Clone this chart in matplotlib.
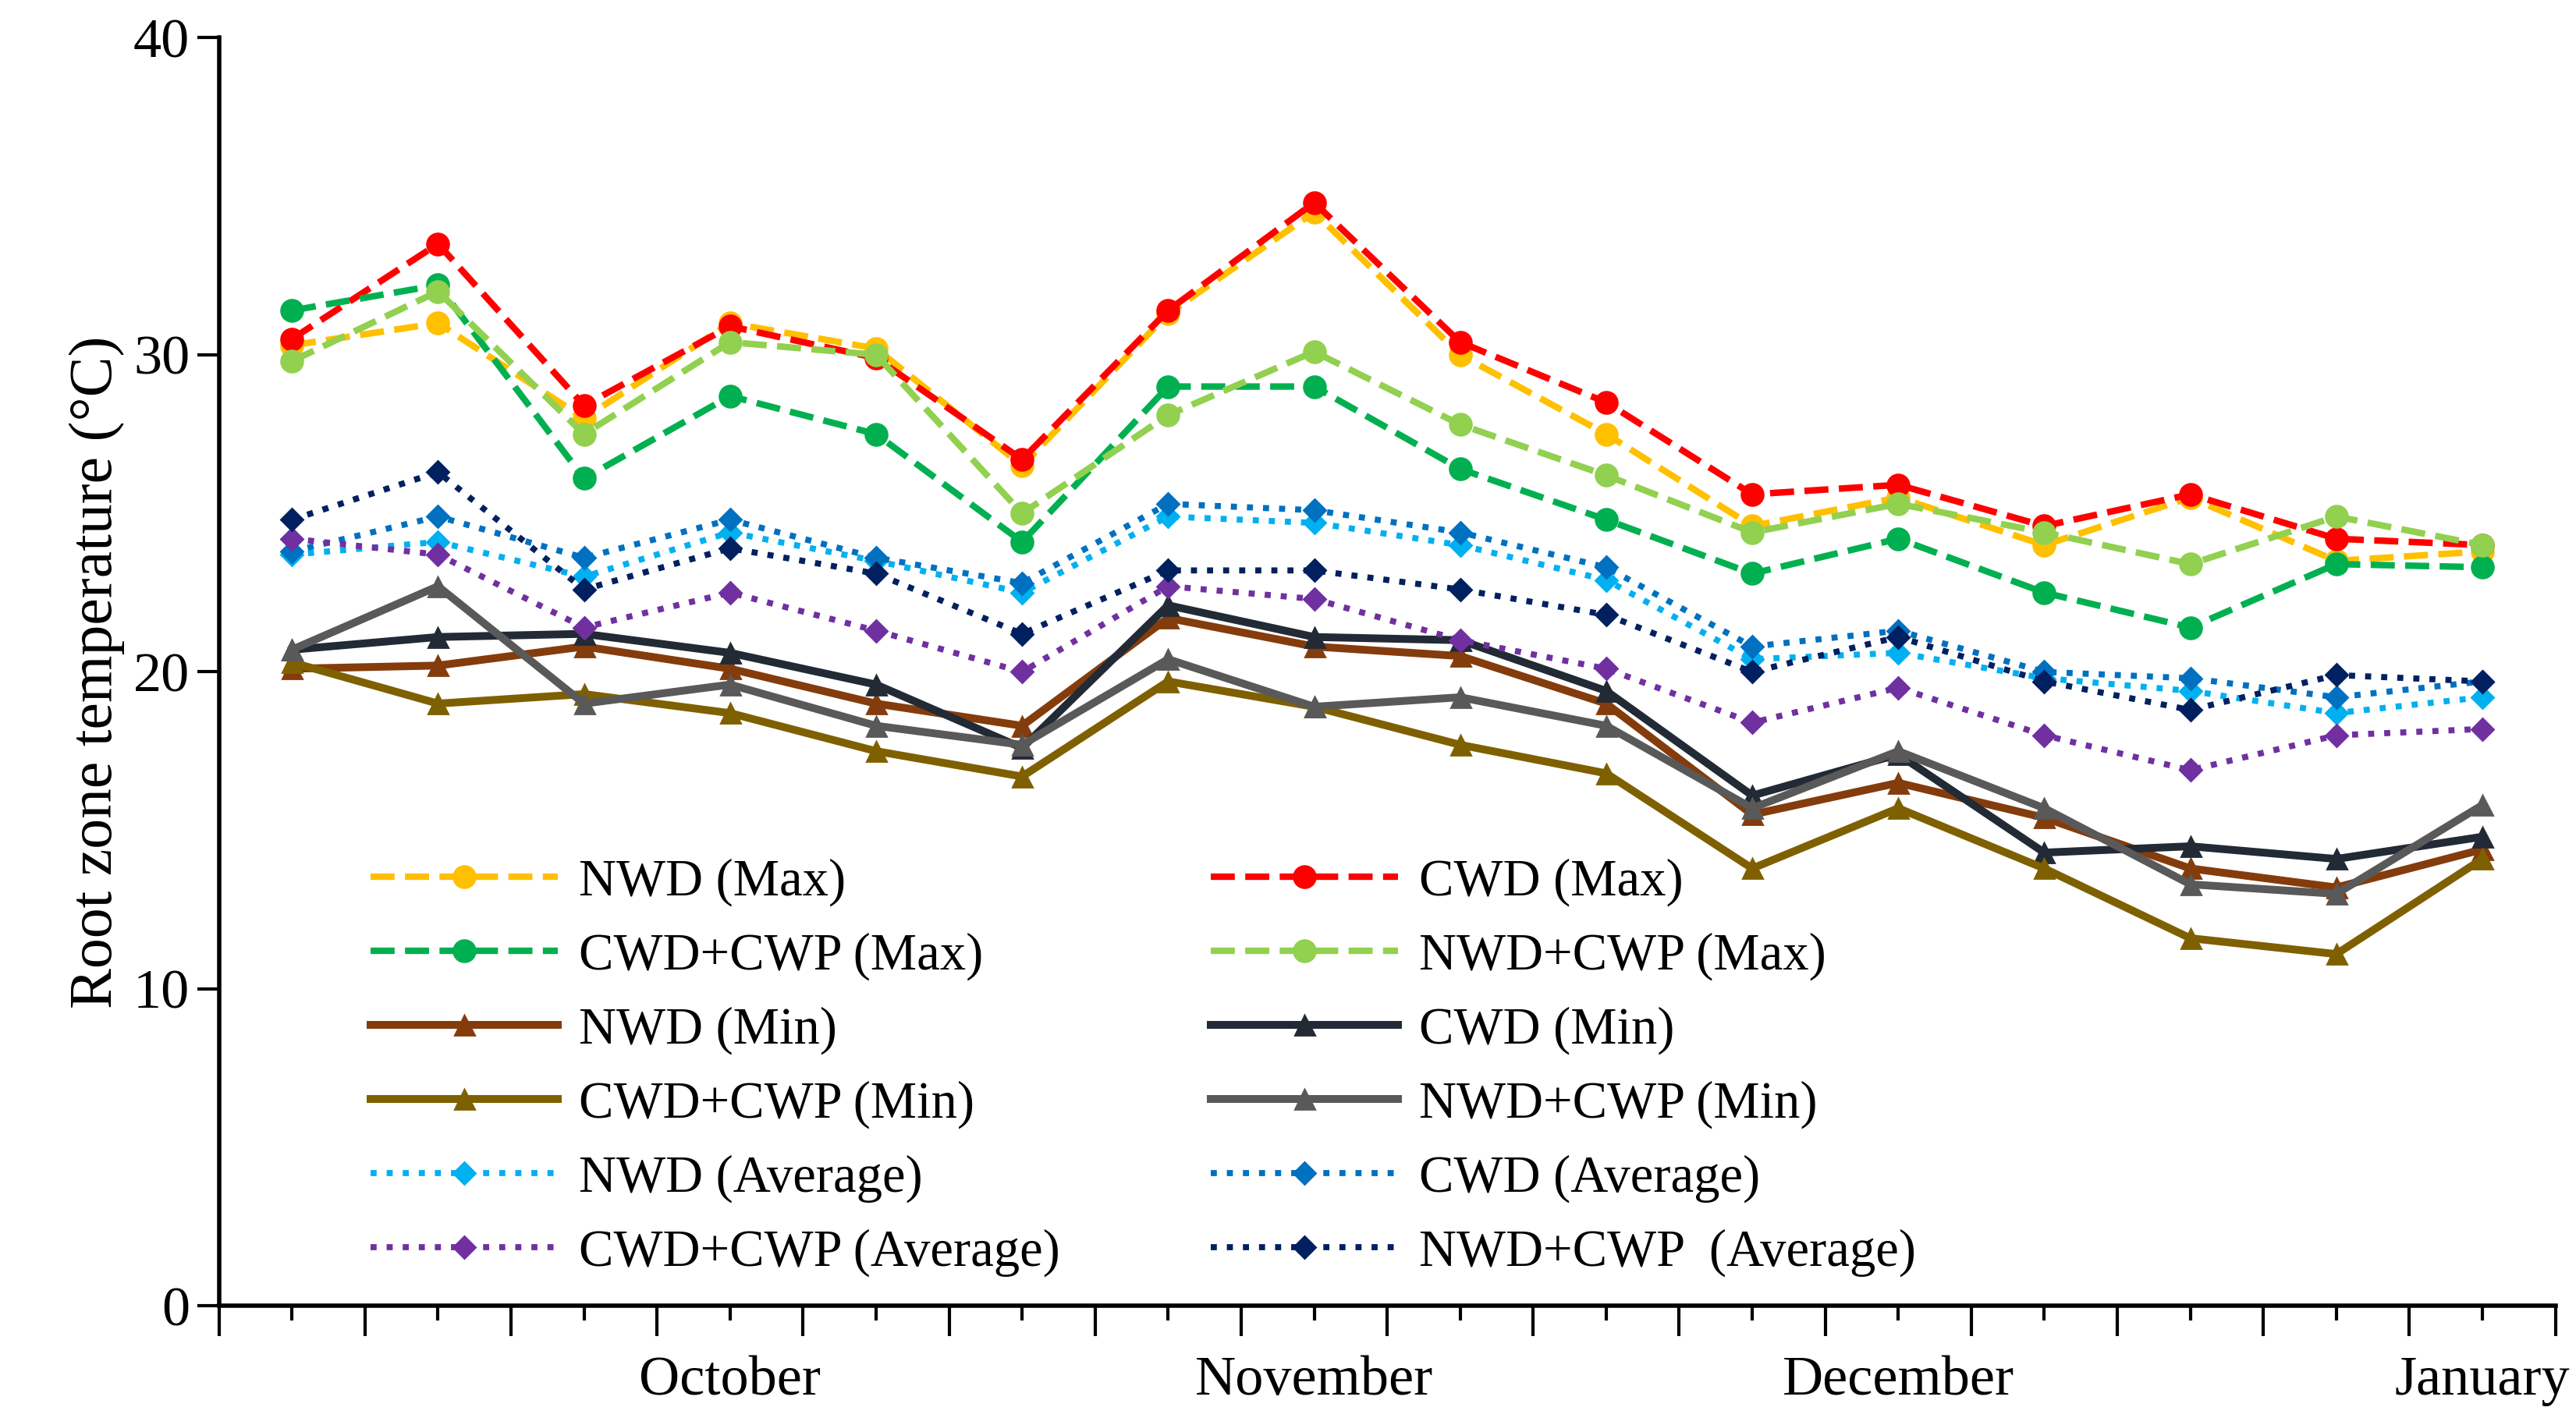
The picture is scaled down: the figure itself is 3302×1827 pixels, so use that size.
import numpy as np
import matplotlib.pyplot as plt

plt.rcParams['font.family'] = 'Liberation Serif'

x = np.arange(1, 17)
months = ['', '', '', 'October', '', '', '', 'November', '', '', '', 'December', '', '', '', 'January']

nwd_max = [30.3, 31.0, 28.0, 31.0, 30.2, 26.5, 31.3, 34.5, 30.0, 27.5, 24.6, 25.5, 24.0, 25.5, 23.5, 23.8]
cwd_max = [30.5, 33.5, 28.4, 30.9, 29.9, 26.7, 31.4, 34.8, 30.4, 28.5, 25.6, 25.9, 24.6, 25.6, 24.2, 24.0]
cwdcwp_max = [31.4, 32.2, 26.1, 28.7, 27.5, 24.1, 29.0, 29.0, 26.4, 24.8, 23.1, 24.2, 22.5, 21.4, 23.4, 23.3]
nwdcwp_max = [29.8, 32.0, 27.5, 30.4, 30.0, 25.0, 28.1, 30.1, 27.8, 26.2, 24.4, 25.3, 24.4, 23.4, 24.9, 24.0]
nwd_min = [20.1, 20.2, 20.8, 20.1, 19.0, 18.3, 21.7, 20.8, 20.5, 19.0, 15.5, 16.5, 15.4, 13.8, 13.2, 14.4]
cwd_min = [20.7, 21.1, 21.2, 20.6, 19.6, 17.6, 22.1, 21.1, 21.0, 19.4, 16.1, 17.4, 14.3, 14.5, 14.1, 14.8]
cwdcwp_min = [20.3, 19.0, 19.3, 18.7, 17.5, 16.7, 19.7, 18.9, 17.7, 16.8, 13.8, 15.7, 13.8, 11.6, 11.1, 14.1]
nwdcwp_min = [20.7, 22.7, 19.0, 19.6, 18.3, 17.7, 20.4, 18.9, 19.2, 18.3, 15.7, 17.5, 15.7, 13.3, 13.0, 15.8]
nwd_avg = [23.7, 24.1, 23.0, 24.4, 23.5, 22.5, 24.9, 24.7, 24.0, 22.9, 20.4, 20.6, 19.8, 19.4, 18.7, 19.2]
cwd_avg = [23.8, 24.9, 23.6, 24.8, 23.6, 22.8, 25.3, 25.1, 24.4, 23.3, 20.8, 21.3, 20.0, 19.8, 19.2, 19.7]
cwdcwp_avg = [24.2, 23.7, 21.4, 22.5, 21.3, 20.0, 22.7, 22.3, 21.0, 20.1, 18.4, 19.5, 18.0, 16.9, 18.0, 18.2]
nwdcwp_avg = [24.8, 26.3, 22.6, 23.9, 23.1, 21.2, 23.2, 23.2, 22.6, 21.8, 20.0, 21.1, 19.7, 18.8, 19.9, 19.7]

fig = plt.figure(figsize=(16.51, 9.135), dpi=200)
ax = fig.add_axes([0.085, 0.0835, 0.907, 0.89])

# (label, data, color, linestyle, marker)
series = [
    ('NWD (Max)', nwd_max, '#FFC000', '--', 'o'),
    ('CWD (Max)', cwd_max, '#FF0000', '--', 'o'),
    ('CWD+CWP (Max)', cwdcwp_max, '#00B050', '--', 'o'),
    ('NWD+CWP (Max)', nwdcwp_max, '#92D050', '--', 'o'),
    ('NWD (Min)', nwd_min, '#843C0C', '-', '^'),
    ('CWD (Min)', cwd_min, '#222A35', '-', '^'),
    ('CWD+CWP (Min)', cwdcwp_min, '#7F6000', '-', '^'),
    ('NWD+CWP (Min)', nwdcwp_min, '#595959', '-', '^'),
    ('NWD (Average)', nwd_avg, '#00B0F0', ':', 'D'),
    ('CWD (Average)', cwd_avg, '#0070C0', ':', 'D'),
    ('CWD+CWP (Average)', cwdcwp_avg, '#7030A0', ':', 'D'),
    ('NWD+CWP  (Average)', nwdcwp_avg, '#002060', ':', 'D'),
]

handles = []
for lab, y, c, ls, m in series:
    if m == 'o':
        lw, ms = 3.0, 10
    elif m == '^':
        lw, ms = 3.6, 9
    else:
        lw, ms = 2.8, 7
    h, = ax.plot(x, y, color=c, ls=ls, lw=lw, marker=m, ms=ms, label=lab)
    handles.append(h)

order = [0, 2, 4, 6, 8, 10, 1, 3, 5, 7, 9, 11]
ax.legend([handles[i] for i in order], [series[i][0] for i in order],
          ncol=2, frameon=False, fontsize=24, loc='upper left',
          bbox_to_anchor=(0.045, 0.39), handlelength=3.6, columnspacing=2.9,
          labelspacing=0.5, handletextpad=0.4)

ax.set_xlim(0.5, 16.5)
ax.set_ylim(0, 40)
ax.set_yticks([0, 10, 20, 30, 40])
ax.set_xticks(np.arange(0.5, 17, 1))
ax.set_xticklabels([])
ax.set_xticks(x, months, minor=True)
ax.tick_params(axis='x', which='major', direction='out', length=14, width=1.5)
ax.tick_params(axis='x', which='minor', direction='out', length=7, width=1.5, pad=16, labelsize=26)
ax.tick_params(axis='y', direction='out', length=10, width=1.5, labelsize=26)
for s in ['top', 'right']:
    ax.spines[s].set_visible(False)
for s in ['left', 'bottom']:
    ax.spines[s].set_linewidth(2)
ax.set_ylabel('Root zone temperature (°C)', fontsize=28)

fig.savefig('out.png', dpi=200)
